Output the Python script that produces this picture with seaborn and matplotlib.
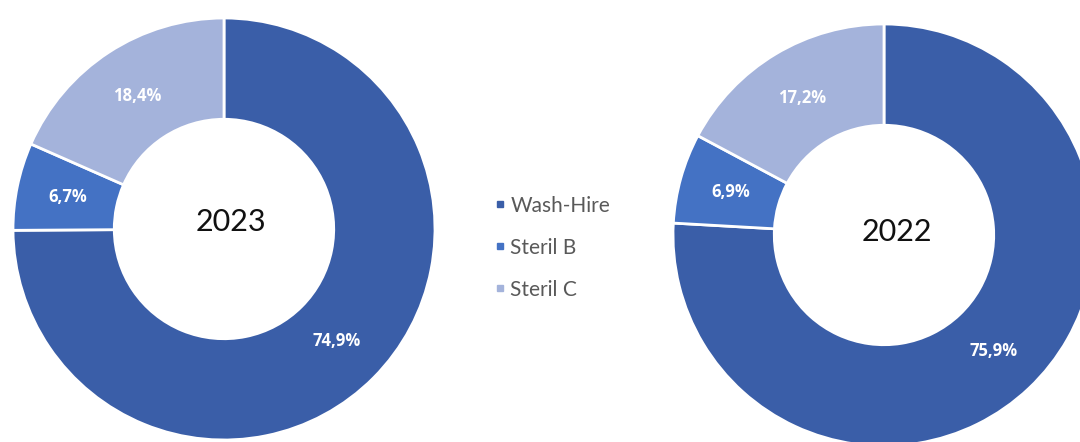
import matplotlib
matplotlib.use("Agg")
import matplotlib.pyplot as plt
import seaborn as sns
from matplotlib.lines import Line2D

categories = ["Wash-Hire", "Steril B", "Steril C"]
values_2023 = [74.9, 6.7, 18.4]
values_2022 = [75.9, 6.9, 17.2]
years = ["2023", "2022"]
colors = ["#3a5ea8", "#4472c4", "#a4b3db"]

sns.set_theme(style="white")
plt.rcParams["font.family"] = ["Lato", "DejaVu Sans"]
sns.set_palette(colors)

W, H = 1080, 442
fig = plt.figure(figsize=(W / 100, H / 100), dpi=100)
fig.patch.set_facecolor("white")

def axes_px(cx, cy, r):
    return fig.add_axes([(cx - r) / W, (H - (cy + r)) / H, 2 * r / W, 2 * r / H])

def fmt(p):
    return f"{p:.1f}%".replace(".", ",")

specs = [(values_2023, years[0], (224, 229, 211), (231, 222)),
         (values_2022, years[1], (884, 235, 211), (897, 232))]

palette = sns.color_palette(colors)
for vals, yr, (cx, cy, r), (tx, ty) in specs:
    ax = axes_px(cx, cy, r)
    wedges, texts, autotexts = ax.pie(
        vals, colors=palette, startangle=90, counterclock=False,
        radius=1.0, autopct=fmt, pctdistance=0.755,
        wedgeprops=dict(width=0.48, edgecolor="white", linewidth=2),
        textprops=dict(color="white", fontsize=12, fontweight="bold",
                       family=["Open Sans", "DejaVu Sans"]))
    ax.set_xlim(-1, 1)
    ax.set_ylim(-1, 1)
    ax.set_aspect("equal")
    ax.axis("off")
    fig.text(tx / W, 1 - ty / H, yr, ha="center", va="center",
             fontsize=22, color="#111111")

handles = [Line2D([0], [0], marker="s", linestyle="", markersize=5,
                  markerfacecolor=c, markeredgecolor=c) for c in colors]
fig.legend(handles, categories, loc="upper left",
           bbox_to_anchor=(474 / W, 1 - 177 / H), frameon=False,
           fontsize=15, labelcolor="#595959", handletextpad=0.15,
           labelspacing=1.05, handlelength=0.7)

fig.savefig("out.png", dpi=100, facecolor="white")
